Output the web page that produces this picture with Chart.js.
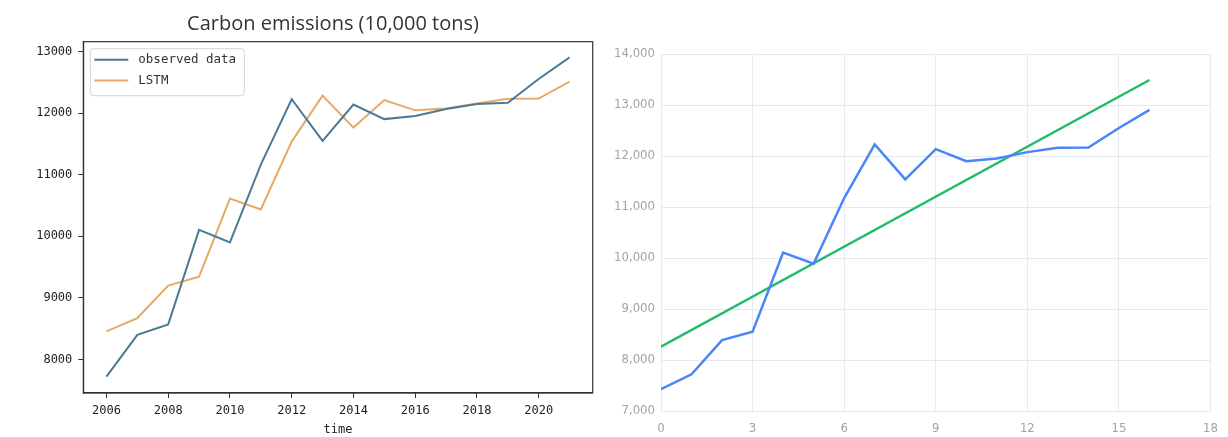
<!DOCTYPE html>
<html>
<head>
<meta charset="utf-8">
<script src="https://cdn.jsdelivr.net/npm/chart.js@4/dist/chart.umd.min.js"></script>
<style>
  html, body { margin: 0; padding: 0; background: #fff; }
  #wrap { position: relative; width: 1228px; height: 437px; overflow: hidden; }
  #leftBox { position: absolute; left: 0; top: 0; width: 615px; height: 437px; }
  #rightBox { position: absolute; left: 615px; top: 0; width: 613px; height: 437px; }
</style>
</head>
<body>
<div id="wrap">
  <div id="leftBox"><canvas id="lstmChart" width="615" height="437"></canvas></div>
  <div id="rightBox"><canvas id="trendChart" width="613" height="437"></canvas></div>
</div>
<script>
// ---- Left panel: observed emissions vs LSTM prediction (10,000 tons) ----
const years = [2006, 2007, 2008, 2009, 2010, 2011, 2012, 2013, 2014, 2015, 2016, 2017, 2018, 2019, 2020, 2021];
const observed = [7720, 8400, 8570, 10105, 9900, 11165, 12226, 11548, 12140, 11903, 11955, 12068, 12150, 12168, 12555, 12905];
const lstm = [8455, 8672, 9199, 9344, 10613, 10435, 11538, 12285, 11765, 12212, 12045, 12075, 12156, 12235, 12236, 12510];
const yearTicks = [2006, 2008, 2010, 2012, 2014, 2016, 2018, 2020];
const emissionTicks = [8000, 9000, 10000, 11000, 12000, 13000];

// ---- Right panel: emissions by sequence index with linear trend ----
const seqIndex = [0, 1, 2, 3, 4, 5, 6, 7, 8, 9, 10, 11, 12, 13, 14, 15, 16];
const seqEmissions = [7430, 7720, 8390, 8555, 10105, 9890, 11175, 12226, 11541, 12134, 11899, 11952, 12076, 12161, 12167, 12550, 12904];
const trendIndex = [0, 16];
const trendValues = [8260, 13490];

const toPoints = (xs, ys) => xs.map((x, i) => ({ x: x, y: ys[i] }));

const MONO = '"DejaVu Sans Mono", monospace';
const NARROW = '"Liberation Sans Narrow", "DejaVu Sans Condensed", "Liberation Sans", sans-serif';

// Full box around the plot area, drawn over the lines
const frameBox = {
  id: 'frameBox',
  afterDatasetsDraw(chart) {
    const { ctx, chartArea: a } = chart;
    ctx.save();
    ctx.strokeStyle = '#333';
    ctx.lineWidth = 1.2;
    ctx.strokeRect(a.left, a.top, a.right - a.left, a.bottom - a.top);
    ctx.restore();
  }
};

// Heading above the plot area
const headline = {
  id: 'headline',
  afterDraw(chart) {
    const { ctx, chartArea: a } = chart;
    ctx.save();
    ctx.font = '20px "Open Sans", sans-serif';
    ctx.fillStyle = '#333';
    ctx.textAlign = 'center';
    ctx.textBaseline = 'alphabetic';
    ctx.fillText('Carbon emissions (10,000 tons)', (a.left + a.right) / 2 - 5, 30);
    ctx.restore();
  }
};

// Boxed legend in the upper-left corner of the plot area
const cornerLegend = {
  id: 'cornerLegend',
  afterDraw(chart) {
    const { ctx, chartArea: a } = chart;
    const x = a.left + 7, y = a.top + 7, w = 154, h = 47, r = 3;
    ctx.save();
    ctx.beginPath();
    ctx.moveTo(x + r, y);
    ctx.arcTo(x + w, y, x + w, y + h, r);
    ctx.arcTo(x + w, y + h, x, y + h, r);
    ctx.arcTo(x, y + h, x, y, r);
    ctx.arcTo(x, y, x + w, y, r);
    ctx.closePath();
    ctx.fillStyle = 'rgba(255,255,255,0.85)';
    ctx.fill();
    ctx.strokeStyle = '#d4d4d4';
    ctx.lineWidth = 1;
    ctx.stroke();
    chart.data.datasets.forEach((ds, i) => {
      const cy = y + 11 + i * 20.7;
      ctx.beginPath();
      ctx.moveTo(x + 4, cy);
      ctx.lineTo(x + 38, cy);
      ctx.strokeStyle = ds.borderColor;
      ctx.lineWidth = 2;
      ctx.stroke();
      ctx.font = '12.5px ' + MONO;
      ctx.fillStyle = '#333';
      ctx.textAlign = 'left';
      ctx.textBaseline = 'middle';
      ctx.fillText(ds.label, x + 48, cy);
    });
    ctx.restore();
  }
};

new Chart(document.getElementById('lstmChart'), {
  type: 'line',
  data: {
    datasets: [
      { label: 'observed data', data: toPoints(years, observed), borderColor: '#4a7b96', borderWidth: 2 },
      { label: 'LSTM', data: toPoints(years, lstm), borderColor: '#e9a864', borderWidth: 2 }
    ]
  },
  options: {
    responsive: false,
    animation: false,
    layout: { padding: { left: 0, right: 22.3, top: 41.7, bottom: 0 } },
    elements: { point: { radius: 0 }, line: { tension: 0 } },
    plugins: { legend: { display: false }, tooltip: { enabled: false } },
    scales: {
      x: {
        type: 'linear',
        min: 2005.25,
        max: 2021.75,
        afterBuildTicks: s => { s.ticks = yearTicks.map(v => ({ value: v })); },
        afterFit: s => { s.height = 44; },
        ticks: { font: { family: MONO, size: 12 }, color: '#222', padding: 6, callback: v => String(v) },
        grid: { drawOnChartArea: false, drawTicks: true, tickLength: 5, color: '#333', tickWidth: 1 },
        border: { display: true, color: '#333', width: 1.2 },
        title: { display: true, text: 'time', font: { family: MONO, size: 12 }, color: '#222', padding: { top: 0, bottom: 0 } }
      },
      y: {
        type: 'linear',
        min: 7455,
        max: 13160,
        afterBuildTicks: s => { s.ticks = emissionTicks.map(v => ({ value: v })); },
        afterFit: s => { s.width = 83.3; },
        ticks: { font: { family: MONO, size: 12 }, color: '#222', padding: 6, callback: v => String(v) },
        grid: { drawOnChartArea: false, drawTicks: true, tickLength: 5, color: '#333', tickWidth: 1 },
        border: { display: true, color: '#333', width: 1.2 }
      }
    }
  },
  plugins: [frameBox, headline, cornerLegend]
});

new Chart(document.getElementById('trendChart'), {
  type: 'line',
  data: {
    datasets: [
      { label: 'emissions', data: toPoints(seqIndex, seqEmissions), borderColor: '#4a86f7', borderWidth: 2.5 },
      { label: 'trend', data: toPoints(trendIndex, trendValues), borderColor: '#22bb6a', borderWidth: 2.5 }
    ]
  },
  options: {
    responsive: false,
    animation: false,
    layout: { padding: { left: 0, right: 7, top: 54, bottom: 0 } },
    elements: { point: { radius: 0 }, line: { tension: 0 } },
    plugins: { legend: { display: false }, tooltip: { enabled: false } },
    scales: {
      x: {
        type: 'linear',
        min: 0,
        max: 18,
        afterFit: s => { s.height = 26; },
        ticks: { stepSize: 3, font: { family: NARROW, size: 13 }, color: '#a3a3a3', padding: 10 },
        grid: { color: '#e6e9f1', lineWidth: 1, drawTicks: false },
        border: { display: false }
      },
      y: {
        type: 'linear',
        min: 7000,
        max: 14000,
        afterFit: s => { s.width = 46; },
        ticks: { stepSize: 1000, font: { family: NARROW, size: 13 }, color: '#a3a3a3', padding: 6 },
        grid: { color: '#e6e9f1', lineWidth: 1, drawTicks: false },
        border: { display: false }
      }
    }
  }
});
</script>
</body>
</html>
